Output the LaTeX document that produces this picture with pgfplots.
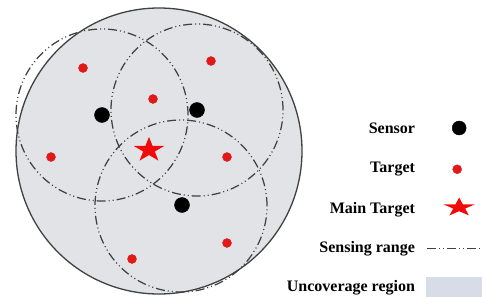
\documentclass[border=0pt]{standalone}
\usepackage{fontspec}
\setmainfont{Liberation Serif}
\usepackage{pgfplots}
\pgfplotsset{compat=1.18}
\definecolor{regionfill}{RGB}{226,227,231}
\definecolor{legfill}{RGB}{216,220,230}
\definecolor{rangegray}{RGB}{65,65,65}
\definecolor{rimgray}{RGB}{65,65,65}
\definecolor{tred}{RGB}{225,25,25}
\definecolor{sred}{RGB}{240,10,10}
\pgfdeclareplotmark{fivestar}{%
  \pgfpathmoveto{\pgfpointpolar{90}{\pgfplotmarksize}}%
  \pgfpathlineto{\pgfpointpolar{126}{0.382\pgfplotmarksize}}%
  \pgfpathlineto{\pgfpointpolar{162}{\pgfplotmarksize}}%
  \pgfpathlineto{\pgfpointpolar{198}{0.382\pgfplotmarksize}}%
  \pgfpathlineto{\pgfpointpolar{234}{\pgfplotmarksize}}%
  \pgfpathlineto{\pgfpointpolar{270}{0.382\pgfplotmarksize}}%
  \pgfpathlineto{\pgfpointpolar{306}{\pgfplotmarksize}}%
  \pgfpathlineto{\pgfpointpolar{342}{0.382\pgfplotmarksize}}%
  \pgfpathlineto{\pgfpointpolar{18}{\pgfplotmarksize}}%
  \pgfpathlineto{\pgfpointpolar{54}{0.382\pgfplotmarksize}}%
  \pgfpathclose
  \pgfusepathqfill}
\tikzset{rangestyle/.style={draw=rangegray, line width=1.25pt,
  dash pattern=on 9pt off 3pt on 1pt off 3pt on 1pt off 3pt}}
\begin{document}
\begin{tikzpicture}
\useasboundingbox (0,0) rectangle (482pt,297pt);
\clip (0,0) rectangle (482pt,297pt);
\begin{axis}[at={(0,0)}, anchor=south west,
  width=482pt, height=297pt, scale only axis, hide axis, clip=false,
  xmin=0, xmax=482, ymin=0, ymax=297, y dir=reverse,
  legend plot pos=right, legend cell align=right,
  legend style={draw=none, fill=none, inner sep=0pt,
    at={(axis description cs:1.0,0.6)}, anchor=north east,
    font=\bfseries\fontsize{16}{19}\selectfont,
    row sep=19.25pt, column sep=9pt},
]
\addlegendimage{legend image code/.code={\path[draw=none,fill=none] (0pt,-10pt) rectangle (55pt,10pt);
  \fill[black] (33pt,1pt) circle (7pt);}}
\addlegendentry{Sensor}
\addlegendimage{legend image code/.code={\path[draw=none,fill=none] (0pt,-10pt) rectangle (55pt,10pt);
  \fill[tred] (31pt,-1pt) circle (4.5pt);}}
\addlegendentry{Target}
\addlegendimage{legend image code/.code={\path[draw=none,fill=none] (0pt,-10pt) rectangle (55pt,10pt);
  \path[fill=sred,draw=none] plot[only marks, mark=fivestar, mark size=16.5pt, mark options={yscale=0.6}] coordinates {(33pt,1pt)};}}
\addlegendentry{Main Target}
\addlegendimage{legend image code/.code={\path[draw=none,fill=none] (0pt,-10pt) rectangle (55pt,10pt);
  \draw[rangestyle] (1pt,-1pt) -- (55pt,-1pt);}}
\addlegendentry{Sensing range}
\addlegendimage{legend image code/.code={\path[draw=none,fill=none] (0pt,-10pt) rectangle (55pt,10pt);
  \fill[legfill] (0pt,-10pt) rectangle (55pt,10pt);}}
\addlegendentry{Uncoverage region}

% region
\addplot[forget plot, only marks, mark=*, mark size=143pt,
  mark options={fill=regionfill, draw=rimgray, line width=1.3pt}]
  coordinates {(159,151)};
% sensing ranges
\addplot[forget plot, only marks, mark=o, mark size=86pt,
  mark options={rangestyle}]
  coordinates {(102,115) (197,110) (181,206)};
% targets
\addplot[forget plot, only marks, mark=*, mark size=4.5pt,
  mark options={fill=tred, draw=tred}]
  coordinates {(83,68) (211,61) (153,99) (51,157) (227,157) (227,243) (132,259)};
% sensors
\addplot[forget plot, only marks, mark=*, mark size=7.5pt,
  mark options={fill=black, draw=black}]
  coordinates {(102,115) (197,110) (182,205)};
% main target
\addplot[forget plot, only marks, mark=fivestar, mark size=16pt,
  mark options={fill=sred, draw=sred, yscale=0.82}]
  coordinates {(149,150)};
\end{axis}
\end{tikzpicture}
\end{document}
